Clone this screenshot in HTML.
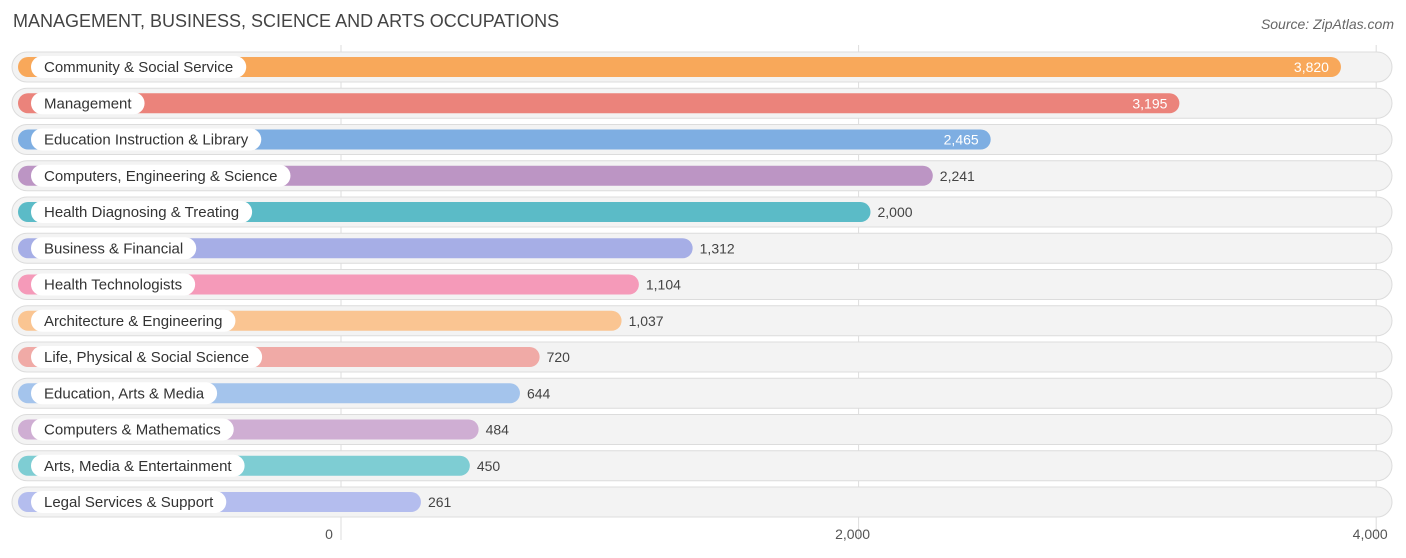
<!DOCTYPE html>
<html><head><meta charset="utf-8">
<style>
body{margin:0;background:#fff;font-family:"Liberation Sans",sans-serif;}
svg{display:block}
</style></head>
<body>
<svg id="chart" width="1406" height="558" xmlns="http://www.w3.org/2000/svg">
<text x="13" y="27" font-size="18" fill="#444">MANAGEMENT, BUSINESS, SCIENCE AND ARTS OCCUPATIONS</text>
<text x="1394" y="29" font-size="14" fill="#666" text-anchor="end" font-style="italic">Source: ZipAtlas.com</text>
<g id="grid"></g>
<g id="rows"></g>
<g id="axis"></g>
</svg>
<script>
const categories=["Community & Social Service","Management","Education Instruction & Library","Computers, Engineering & Science","Health Diagnosing & Treating","Business & Financial","Health Technologists","Architecture & Engineering","Life, Physical & Social Science","Education, Arts & Media","Computers & Mathematics","Arts, Media & Entertainment","Legal Services & Support"];
const values=[3820,3195,2465,2241,2000,1312,1104,1037,720,644,484,450,261];
const colors=["#f8a85a","#eb837b","#7eaee2","#bc95c4","#5bbbc7","#a6aee6","#f59ab9","#fac592","#f0aaa6","#a4c4ec","#cfaed3","#7ecdd3","#b4bdee"];
const ticks=[0,2000,4000];
const tickLabels=["0","2,000","4,000"];
const NS="http://www.w3.org/2000/svg";
const gx=v=>341+v*0.2588;       // gridline position
const bx=v=>353.5+v*0.2585;     // bar end position
const rowY=i=>67+i*36.25;
function mk(t,a,p){const e=document.createElementNS(NS,t);for(const k in a)e.setAttribute(k,a[k]);p.appendChild(e);return e;}
const grid=document.getElementById('grid'),rows=document.getElementById('rows'),axis=document.getElementById('axis');
ticks.forEach((t,i)=>{
 const l=mk('line',{x1:gx(t),x2:gx(t),y1:45,y2:540,stroke:'#ddd','stroke-width':1},grid);
 
 
 const tx=mk('text',{x:gx(t)-(i==2?6:i==1?6:12),y:539,'font-size':14,fill:'#555','text-anchor':'middle'},axis);
 tx.textContent=tickLabels[i];
 
 
});
categories.forEach((c,i)=>{
 const y=rowY(i);
 const g=mk('g',{},rows);
 
 
 const bg=mk('rect',{x:12,y:y-15,width:1380,height:30,rx:15,fill:'#f3f3f3',stroke:'#dcdcdc','stroke-width':1},g);
 
 
 const b=mk('rect',{x:18,y:y-10,width:bx(values[i])-18,height:20,rx:10,fill:colors[i]},g);
 
 
 const lt=mk('text',{x:44,y:y+5,'font-size':15,fill:'#333'},g);
 lt.textContent=c;
 const w=lt.getComputedTextLength();
 const pill=mk('rect',{x:31,y:y-11,width:w+26,height:22,rx:11,fill:'#fff'},g);
 
 
 g.appendChild(lt);
 
 
 const inside=i<3;
 const vt=mk('text',{x:inside?bx(values[i])-12:bx(values[i])+7,y:y+5,'font-size':14,fill:inside?'#fff':'#444','text-anchor':inside?'end':'start'},g);
 vt.textContent=values[i].toLocaleString('en-US');
 
 
});
</script>
</body></html>
